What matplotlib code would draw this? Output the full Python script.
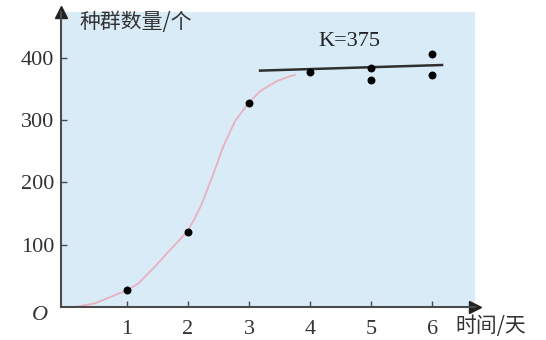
import matplotlib
matplotlib.use("Agg")
from matplotlib import pyplot

# observed counts (day, population)
days = [1, 2, 3, 4, 5, 5, 6, 6]
counts = [27, 120, 327, 376, 384, 364, 406, 372]

# pink growth curve
curve_x = [0.15, 0.48, 0.80, 1.01, 1.19, 1.46, 1.73, 1.98, 2.10, 2.22, 2.41,
           2.58, 2.77, 2.99, 3.18, 3.45, 3.67, 3.75]
curve_y = [0, 6, 19, 27, 38, 65, 94, 120, 140, 164, 212,
           258, 298, 327, 346, 362, 370, 372]

# K line
k_x = [3.18, 6.16]
k_y = [379, 388]
k_label = "K=375"

x_ticks = [1, 2, 3, 4, 5, 6]
y_ticks = [100, 200, 300, 400]

serif = "Liberation Serif"
cjk = ["Noto Sans CJK SC", "DejaVu Sans"]
axis_col = "#4a4a4a"

fig = pyplot.figure(figsize=(5.46, 3.4), dpi=100)
W, H = 546, 340
left, right, top, bottom = 61, 475, 12, 307
ax = fig.add_axes([left / W, (H - bottom) / H, (right - left) / W, (bottom - top) / H])
ax.set_facecolor("#d9ebf7")
ax.set_xlim(-0.08, 6.70)
ax.set_ylim(0, 473)

ax.plot(curve_x, curve_y, color="#eab0c0", lw=1.3, zorder=2)
ax.plot(k_x, k_y, color="#2e2e2e", lw=1.8, zorder=3)
ax.scatter(days, counts, s=22, color="black", zorder=4)
ax.text(4.64, 425, k_label, fontsize=16, family=serif, ha="center", va="center", color="#222222")

for side in ["top", "right"]:
    ax.spines[side].set_visible(False)
for side in ["left", "bottom"]:
    ax.spines[side].set_color(axis_col)
    ax.spines[side].set_linewidth(1.5)

# arrows on axes ends
ax.plot([0], [1], marker="^", color="#222222", markersize=8, transform=ax.transAxes, clip_on=False)
ax.plot([1], [0], marker=">", color="#222222", markersize=8, transform=ax.transAxes, clip_on=False)

ax.set_xticks(x_ticks)
ax.set_yticks(y_ticks)
ax.tick_params(direction="in", length=4, width=1, color=axis_col, labelsize=16, labelcolor="#333333")
ax.tick_params(axis="x", pad=9)
ax.tick_params(axis="y", pad=5)
for lbl in ax.get_xticklabels() + ax.get_yticklabels():
    lbl.set_family(serif)

fig.text(40 / W, 1 - 316 / H, "O", fontsize=16, family=serif, style="italic",
         ha="center", va="center", color="#333333")
fig.text(80 / W, 1 - 22 / H, "种群数量/个", fontsize=15, family=cjk,
         ha="left", va="center", color="#333333")
fig.text(455 / W, 1 - 326 / H, "时间/天", fontsize=15, family=cjk,
         ha="left", va="center", color="#333333")

fig.savefig("out.png", dpi=100)
